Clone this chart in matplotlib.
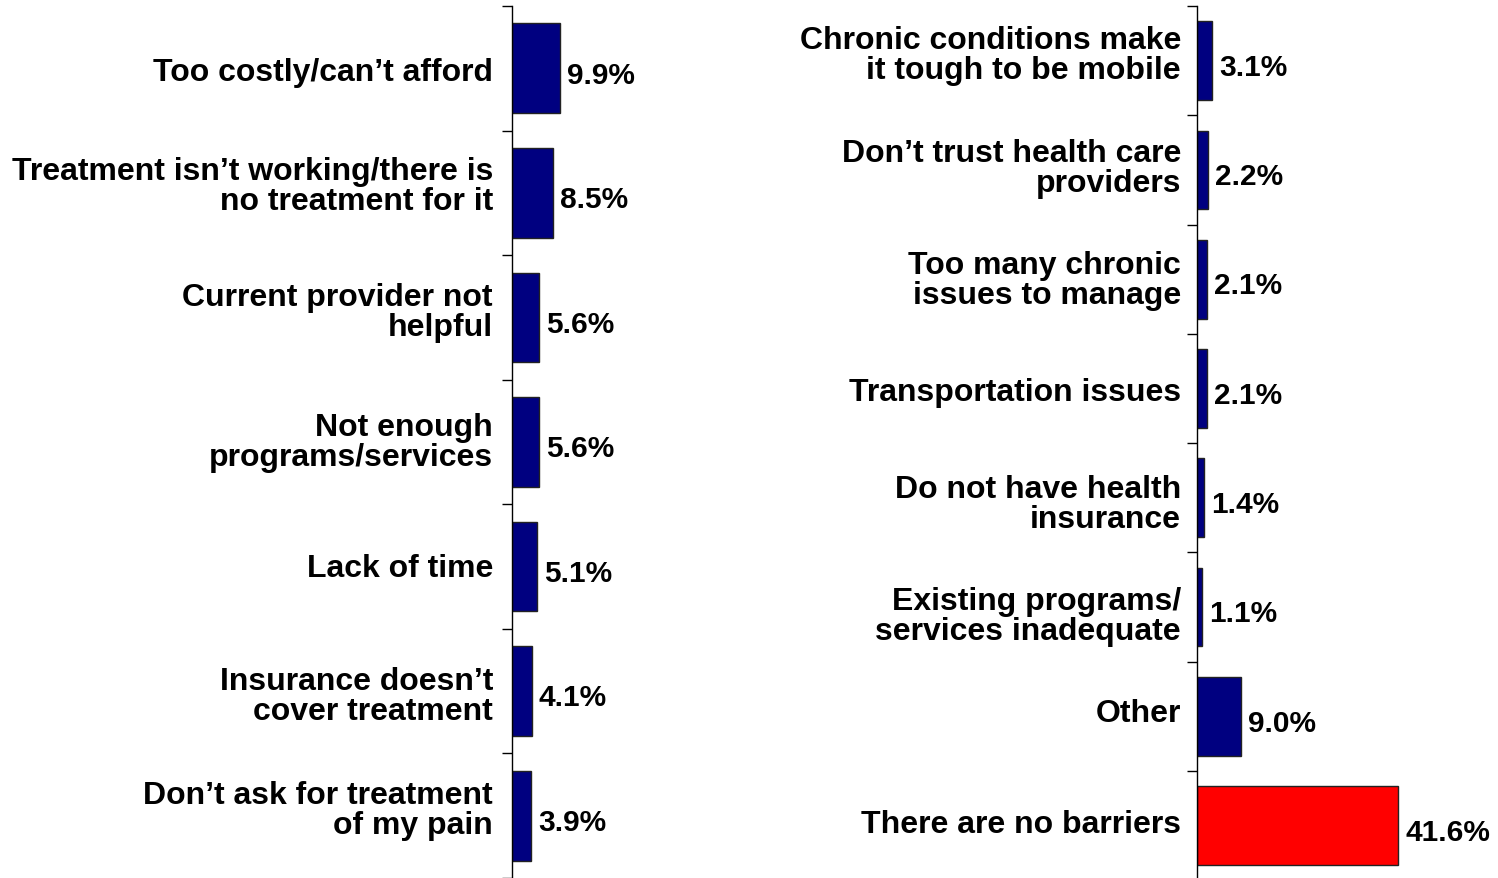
import matplotlib
matplotlib.use("Agg")
import matplotlib.pyplot as plt
import matplotlib.transforms as mtransforms
import numpy as np

plt.rcParams['font.family'] = ['Liberation Sans', 'DejaVu Sans']

left_labels = [
    "Too costly/can\u2019t afford",
    "Treatment isn\u2019t working/there is\nno treatment for it",
    "Current provider not\nhelpful",
    "Not enough\nprograms/services",
    "Lack of time",
    "Insurance doesn\u2019t\ncover treatment",
    "Don\u2019t ask for treatment\nof my pain",
]
left_values = [9.9, 8.5, 5.6, 5.6, 5.1, 4.1, 3.9]

right_labels = [
    "Chronic conditions make\nit tough to be mobile",
    "Don\u2019t trust health care\nproviders",
    "Too many chronic\nissues to manage",
    "Transportation issues",
    "Do not have health\ninsurance",
    "Existing programs/\nservices inadequate",
    "Other",
    "There are no barriers",
]
right_values = [3.1, 2.2, 2.1, 2.1, 1.4, 1.1, 9.0, 41.6]
right_colors = ["#000080"] * 7 + ["#FF0000"]

# layout-only: small vertical nudges (pixels, + = up) of the category labels
left_nudge = [0, 11, 9, 4, 3, -1, 10]
right_nudge = [10, 6, 3, 1, -2, -5, 7, 6]

W, H = 1498, 879
fig = plt.figure(figsize=(W / 100, H / 100), dpi=100)

PX_PER_UNIT = 4.84
FS = 23
FS_VAL = 21.5


def make_panel(left_px, top_px, bottom_px, width_px, labels, values, colors, nudges, pad_px):
    ax = fig.add_axes([left_px / W, 1 - bottom_px / H, width_px / W, (bottom_px - top_px) / H])
    n = len(values)
    y = np.arange(n)
    ax.barh(y, values, height=0.72, color=colors, edgecolor="#222222", linewidth=1.0)
    ax.set_ylim(n - 0.5, -0.5)
    ax.set_xlim(0, width_px / PX_PER_UNIT)
    ax.set_yticks([])
    ax.set_yticks(np.arange(n + 1) - 0.5, minor=True)
    ax.tick_params(axis="y", which="minor", length=7.5, width=1.0, direction="out")
    ax.set_xticks([])
    for s in ["top", "right", "bottom"]:
        ax.spines[s].set_visible(False)
    ax.spines["left"].set_linewidth(1.0)
    base = mtransforms.blended_transform_factory(ax.transAxes, ax.transData)
    for yi, lab, dy in zip(y, labels, nudges):
        tr = base + mtransforms.ScaledTranslation(-pad_px / 100, (dy - 4) / 100, fig.dpi_scale_trans)
        ax.text(0, yi, lab, transform=tr, ha="right", va="center", multialignment="right",
                fontsize=FS, fontweight="bold", linespacing=1.0)
    for yi, v in zip(y, values):
        ax.annotate(f"{v:.1f}%", xy=(v, yi), xytext=(5, -4.5), textcoords="offset points",
                    ha="left", va="center", fontsize=FS_VAL, fontweight="bold", annotation_clip=False)
    ax.patch.set_alpha(0)
    return ax


make_panel(512, 7, 879, 150, left_labels, left_values, ["#000080"] * len(left_values), left_nudge, 19)
make_panel(1197, 7, 881.3, 260, right_labels, right_values, right_colors, right_nudge, 16)

fig.savefig("out.png", dpi=100)
